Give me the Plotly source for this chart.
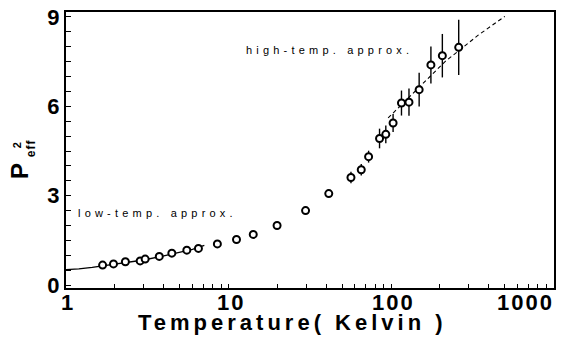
import math
import plotly.graph_objects as go

# ---- data ----
temp_K = [1.68, 1.96, 2.32, 2.86, 3.07, 3.75, 4.48, 5.54, 6.53, 8.54, 11.2, 14.2, 19.9,
          29.8, 41.4, 56.7, 65.6, 72.8, 85.0, 92.9, 103, 116, 129, 149, 176, 207, 261]
p_eff2 = [0.67, 0.71, 0.78, 0.81, 0.87, 0.96, 1.07, 1.17, 1.23, 1.38, 1.53, 1.70, 2.00,
          2.50, 3.07, 3.61, 3.87, 4.31, 4.92, 5.06, 5.44, 6.11, 6.14, 6.56, 7.39, 7.70, 7.98]
p_err = [0, 0, 0, 0, 0, 0, 0, 0, 0, 0, 0, 0, 0,
         0, 0.12, 0.19, 0.19, 0.20, 0.33, 0.30, 0.30, 0.42, 0.46, 0.57, 0.62, 0.73, 0.93]

low_T = [1.0, 1.2, 1.45, 1.68, 2.0, 2.5, 3.0, 4.0, 5.0, 6.0, 7.1]
low_P = [0.52, 0.54, 0.59, 0.64, 0.70, 0.77, 0.84, 0.98, 1.10, 1.20, 1.33]

high_T = [96, 137, 215, 344, 502]
high_P = [5.61, 6.44, 7.50, 8.39, 9.02]

x_tick_vals = [1, 10, 100, 1000]
x_tick_text = ["1", "10", "100", "1000"]
y_tick_vals = [0, 3, 6, 9]
y_minor_step = 0.5

W, H = 561, 346
ML, MR, MT, MB = 66, 5, 10, 58
PW, PH = W - ML - MR, H - MT - MB


def px(xp):
    return (xp - ML) / PW


def py(yp):
    return (H - MB - yp) / PH


fig = go.Figure()

fig.add_trace(go.Scatter(x=low_T, y=low_P, mode="lines",
                         line=dict(color="black", width=1.3),
                         showlegend=False, hoverinfo="skip"))
fig.add_trace(go.Scatter(x=high_T, y=high_P, mode="lines",
                         line=dict(color="black", width=1.1, dash="4px,3px"),
                         showlegend=False, hoverinfo="skip"))
fig.add_trace(go.Scatter(x=temp_K, y=p_eff2, mode="markers",
                         marker=dict(symbol="circle", size=7, color="white",
                                     line=dict(color="black", width=2)),
                         error_y=dict(type="data", array=p_err, visible=True,
                                      color="black", thickness=1.4, width=0),
                         showlegend=False))

# all x ticks (decades and the 2..9 in between)
x_all_ticks = [m * d for d in (1, 10, 100) for m in range(1, 10)] + [1000]
# all y ticks every 0.5, labels only at the labelled values
n_steps = int(round(y_tick_vals[-1] / y_minor_step))
y_all_ticks = [i * y_minor_step for i in range(n_steps + 1)]
y_all_text = [str(int(v)) if v in y_tick_vals else "" for v in y_all_ticks]
y_unit_ticks = list(range(0, y_tick_vals[-1] + 1))

x_range = [0, 3.003]
y_range = [-0.1, 9.167]
common_x = dict(type="log", range=x_range, showgrid=False, zeroline=False,
                tickcolor="black", showticklabels=False, tickmode="array")

fig.update_layout(
    xaxis=dict(**common_x, showline=True, linecolor="black", linewidth=2, mirror=True,
               ticks="inside", ticklen=4, tickwidth=1, tickvals=x_all_ticks),
    xaxis2=dict(**common_x, overlaying="x", anchor="y", side="bottom", showline=False,
                ticks="inside", ticklen=9, tickwidth=1.2, tickvals=x_tick_vals),
    xaxis3=dict(**common_x, overlaying="x", anchor="y", side="top", showline=False,
                ticks="inside", ticklen=4, tickwidth=1, tickvals=x_all_ticks),
    xaxis4=dict(**common_x, overlaying="x", anchor="y", side="top", showline=False,
                ticks="inside", ticklen=9, tickwidth=1.2, tickvals=x_tick_vals),
    yaxis=dict(range=y_range, showgrid=False, zeroline=False,
               showline=True, linecolor="black", linewidth=2, mirror=True,
               ticks="inside", ticklen=5, tickwidth=1, tickcolor="black",
               tickmode="array", tickvals=y_all_ticks, ticktext=y_all_text,
               tickfont=dict(family="Liberation Sans", size=22, color="black", weight="bold")),
    yaxis2=dict(range=y_range, overlaying="y", anchor="x", side="right",
                showgrid=False, zeroline=False, showline=False,
                ticks="inside", ticklen=5, tickwidth=1, tickcolor="black",
                tickmode="array", tickvals=y_unit_ticks, showticklabels=False),
)

annotations = []
for v, t in zip(x_tick_vals, x_tick_text):
    last = v == x_tick_vals[-1]
    annotations.append(dict(x=math.log10(v), xref="x", y=0, yref="paper",
                            text='<span style="letter-spacing:2px"><b>' + t + '</b></span>',
                            showarrow=False,
                            xanchor="right" if last else "center", yanchor="middle",
                            xshift=2, yshift=-14,
                            font=dict(family="Liberation Sans", size=22, color="black")))

annotations += [
    dict(x=px(293), y=py(323), xref="paper", yref="paper", showarrow=False,
         xanchor="center", yanchor="middle",
         text='<span style="letter-spacing:4px"><b>Temperature( Kelvin )</b></span>',
         font=dict(family="Liberation Sans", size=22, color="black")),
    dict(x=px(20), y=py(170), xref="paper", yref="paper", showarrow=False, textangle=-90,
         xanchor="center", yanchor="middle",
         text="<b>P</b>", font=dict(family="Liberation Sans", size=24, color="black")),
    dict(x=px(17), y=py(144), xref="paper", yref="paper", showarrow=False, textangle=-90,
         xanchor="center", yanchor="middle",
         text="<b>2</b>", font=dict(family="Liberation Sans", size=11, color="black")),
    dict(x=px(31), y=py(147), xref="paper", yref="paper", showarrow=False, textangle=-90,
         xanchor="center", yanchor="middle",
         text='<span style="letter-spacing:1px"><b>eff</b></span>',
         font=dict(family="Liberation Sans", size=12, color="black")),
    dict(x=px(158), y=py(212.5), xref="paper", yref="paper", showarrow=False,
         xanchor="center", yanchor="middle",
         text='<span style="letter-spacing:4.2px">low-temp. approx.</span>',
         font=dict(family="Liberation Sans", size=11, color="black")),
    dict(x=px(331), y=py(48), xref="paper", yref="paper", showarrow=False,
         xanchor="center", yanchor="middle",
         text='<span style="letter-spacing:4.2px">high-temp. approx.</span>',
         font=dict(family="Liberation Sans", size=11, color="black")),
]

fig.update_layout(width=W, height=H, margin=dict(l=ML, r=MR, t=MT, b=MB),
                  paper_bgcolor="white", plot_bgcolor="white",
                  annotations=annotations, showlegend=False)

fig.write_html("out.html", config={"displayModeBar": False},
               post_script="document.body.style.margin='0';")
